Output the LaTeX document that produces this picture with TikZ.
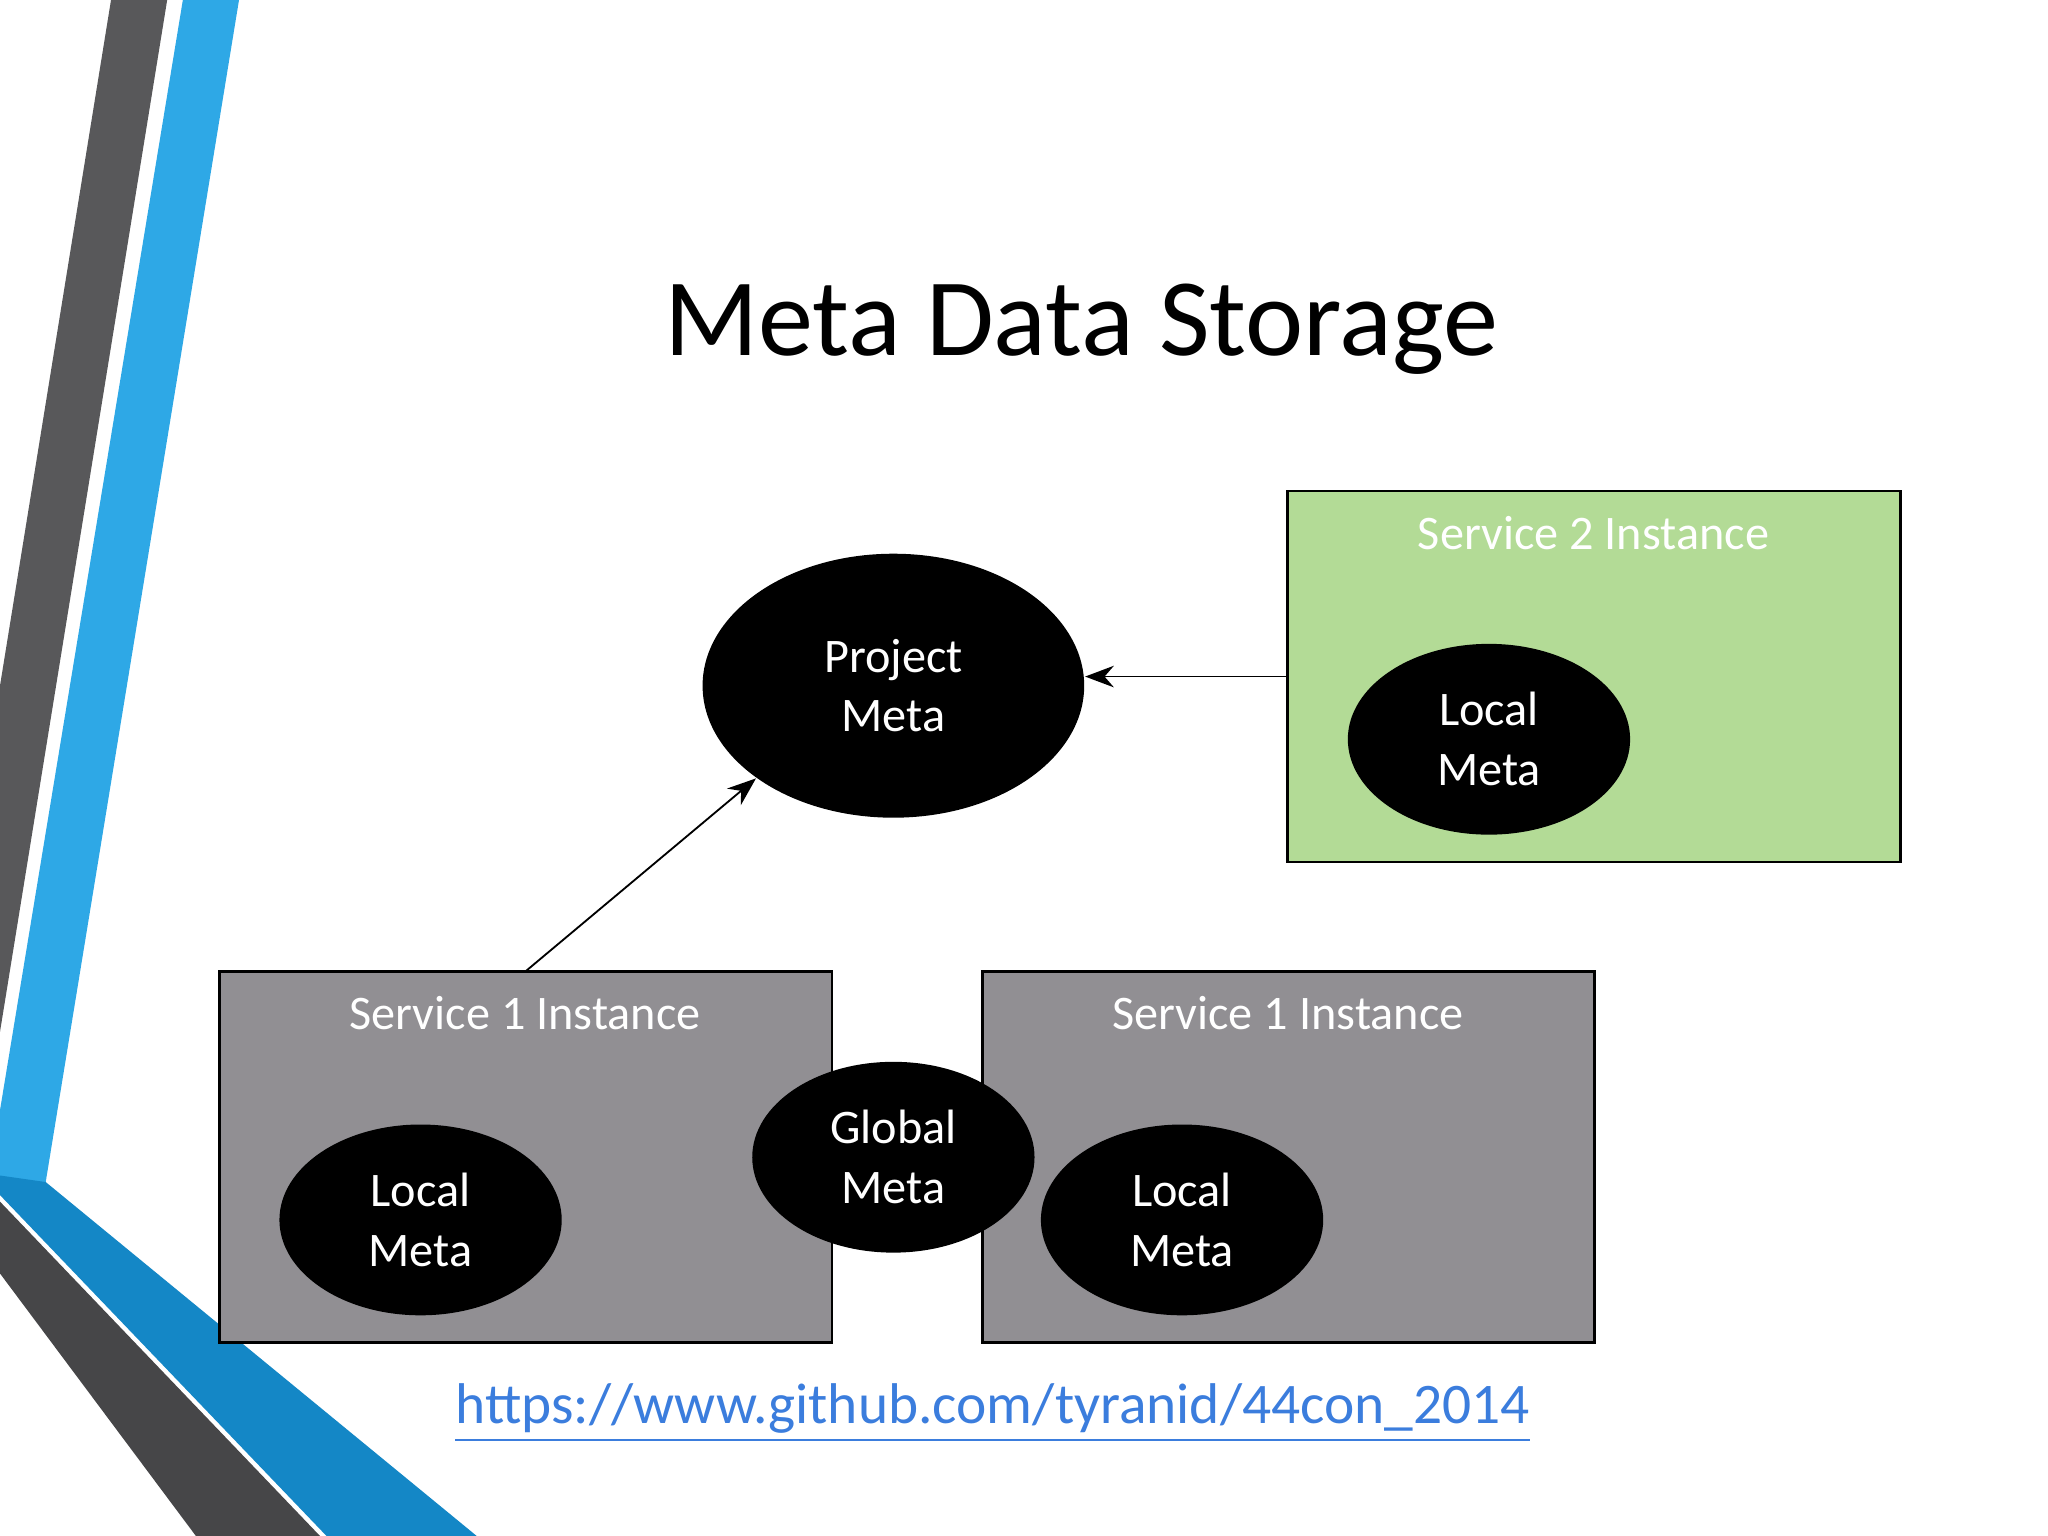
\documentclass[tikz,border=0pt]{standalone}
\usepackage{fontspec}
\setmainfont{Carlito}
\usetikzlibrary{shapes.geometric,arrows.meta}
\definecolor{s1gray}{HTML}{918F93}
\definecolor{s2green}{HTML}{B3DB96}
\definecolor{stripegray}{HTML}{58585A}
\definecolor{stripeblue}{HTML}{2EA8E6}
\definecolor{deepblue}{HTML}{1487C6}
\definecolor{urlblue}{HTML}{3B7DDD}
\begin{document}
\begin{tikzpicture}[x=0.01cm,y=-0.01cm,
    meta/.style={ellipse, fill=black, text=white, align=center, font=\fontsize{10.5}{13}\selectfont},
    instance/.style={draw=black, line width=0.6pt},
    boxlabel/.style={text=white, font=\fontsize{10.5}{13}\selectfont},
    link/.style={-{Stealth[length=2.2mm]}, line width=0.4pt}
    ]
  \useasboundingbox (0,0) rectangle (1568,1176);
  % side stripes
  \fill[stripegray] (85,0) -- (128,0) -- (0,790) -- (0,525) -- cycle;
  \fill[stripeblue] (140,0) -- (183,0) -- (35,905) -- (0,905) -- (0,850) -- cycle;
  \fill[deepblue] (0,900) -- (35,905) -- (365,1176) -- (250,1176) -- (0,915) -- cycle;
  \fill[stripegray!80!black] (0,920) -- (245,1176) -- (150,1176) -- (0,975) -- cycle;
  % title
  \node[font=\fontsize{24}{28}\selectfont] (title) at (828,252) {Meta Data Storage};
  % boxes
  \filldraw[instance, fill=s2green] (986,376) rectangle (1455,660);
  \filldraw[instance, fill=s1gray] (168,744) rectangle (637,1028);
  \filldraw[instance, fill=s1gray] (752,744) rectangle (1221,1028);
  \coordinate (s2w) at (986,518);
  \coordinate (s1n) at (402,744);
  \node[boxlabel] (s2lab) at (1220,408) {Service 2 Instance};
  \node[boxlabel] (s1lab) at (402,776) {Service 1 Instance};
  \node[boxlabel] (s1blab) at (986,776) {Service 1 Instance};
  % ellipses
  \node[meta, minimum width=2.92cm, minimum height=2.02cm] (project) at (684,525) {Project\\Meta};
  \node[meta, minimum width=2.16cm, minimum height=1.46cm] (local2) at (1140,566) {Local\\Meta};
  \node[meta, minimum width=2.16cm, minimum height=1.46cm] (locala) at (322,934) {Local\\Meta};
  \node[meta, minimum width=2.16cm, minimum height=1.46cm] (localb) at (905,934) {Local\\Meta};
  \node[meta, minimum width=2.16cm, minimum height=1.46cm] (global) at (684,886) {Global\\Meta};
  % links
  \draw[link] (s2w) -- (project.east |- s2w);
  \draw[link] (s1n) -- (project.-146);
  % url
  \node[text=urlblue, font=\fontsize{12.5}{15}\selectfont] (url) at (760,1082) {\underline{https://www.github.com/tyranid/44con\_2014}};
\end{tikzpicture}
\end{document}
